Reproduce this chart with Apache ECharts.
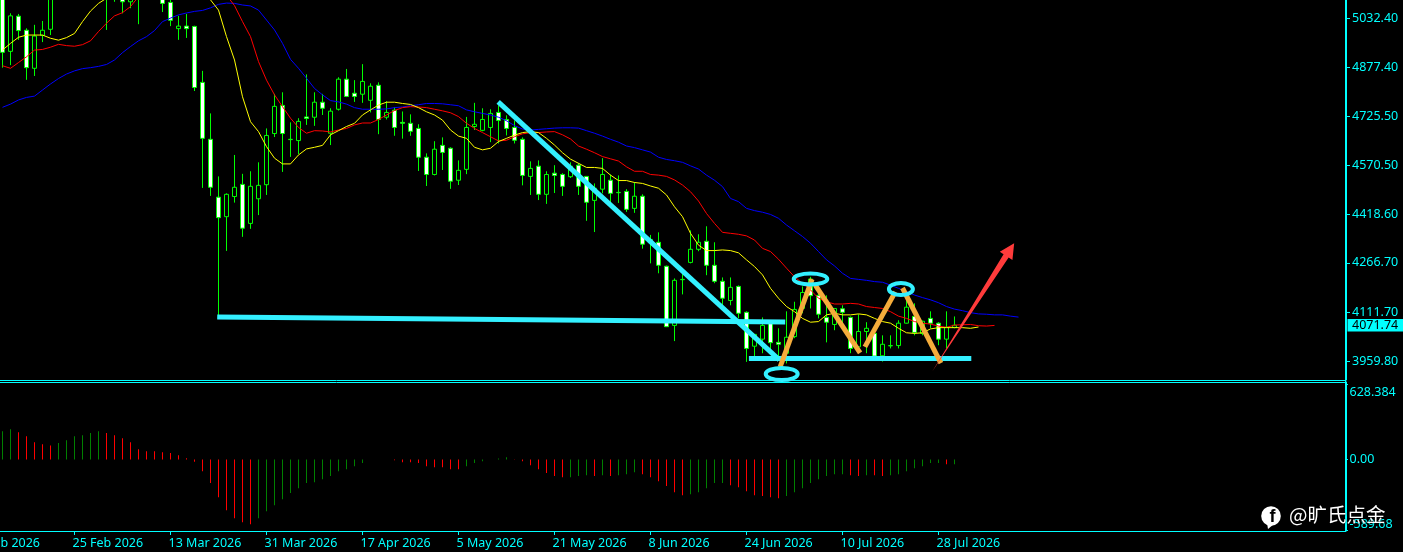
<!DOCTYPE html>
<html><head><meta charset="utf-8">
<style>html,body{margin:0;padding:0;background:#000;overflow:hidden}#c{width:1403px;height:552px}</style>
<script src="https://cdn.jsdelivr.net/npm/echarts@6/dist/echarts.min.js"></script>
</head><body><div id="c"></div>
<script>
const dateLabels = ['9 Feb 2026','25 Feb 2026','13 Mar 2026','31 Mar 2026','17 Apr 2026','5 May 2026','21 May 2026','8 Jun 2026','24 Jun 2026','10 Jul 2026','28 Jul 2026'];
const priceTicks = [3959.80,4111.70,4266.70,4418.60,4570.50,4725.50,4877.40,5032.40];
const macdTicks = [-589.68,0,628.384];
const lastPrice = 4071.74;

const opens = [5151,4928,5038,4994,4875,4978,4997,5110,5145,5170,5140,5175,5150,5130,5105,5125,5083,5105,5130,5115,5100,5081,4999,5007,5006,4831,4653,4472,4411,4474,4512,4390,4467,4511,4671,4759,4652,4649,4723,4722,4769,4672,4747,4841,
4797,4794,4775,4822,4722,4744,4706,4703,4687,4597,4543,4634,4625,4525,4559,4693,4681,4690,4737,4715,4690,4653,4537,4569,4481,4547,4543,4536,4572,4537,4462,4497,4525,4486,4490,4437,4475,4336,4331,4256,4071,4214,4268,4309,4334,4259,4209,4149,4193,4112,4006,4028,4078,4018,3984,4036,4124,4216,4165,4096,4074,4123,4096,4004,4052,4046,3976,4007,4008,4078,4099,4046,4093,4078,4028,4065];
const closes = [4925,5039,4993,4877,4976,4994,5110,5145,5170,5140,5175,5150,5130,5105,5125,5083,5105,5130,5115,5100,5078,5025,5007,4999,4815,4656,4503,4408,4481,4503,4375,4506,4509,4665,4756,4671,4653,4709,4718,4769,4750,4741,4841,4787,
4787,4834,4819,4715,4737,4690,4703,4678,4597,4543,4622,4612,4522,4556,4690,4700,4715,4734,4712,4687,4650,4540,4562,4481,4543,4540,4506,4569,4506,4456,4500,4543,4484,4487,4434,4475,4325,4340,4259,4067,4212,4215,4309,4331,4259,4209,4156,4190,4109,3999,4043,4071,4017,4012,4034,4121,4174,4164,4106,4081,4124,4112,3999,4052,4062,3975,4012,4008,4078,4128,4049,4084,4078,4028,4065,4071.74];
const lows = [4877,4885,4964,4839,4851,4957,4979,5100,5130,5125,5120,5130,5105,4995,5083,5047,5063,5013,5095,5092,5051,5007,4964,4970,4804,4501,4476,4094,4304,4455,4348,4373,4416,4479,4660,4551,4598,4606,4698,4695,4729,4635,4743,4785,
4770,4767,4737,4669,4715,4664,4655,4664,4554,4507,4540,4557,4498,4510,4544,4682,4678,4644,4640,4665,4640,4509,4479,4463,4451,4485,4476,4532,4479,4398,4363,4484,4453,4454,4426,4423,4311,4265,4234,4066,4022,4168,4265,4303,4228,4203,4134,4134,4093,3957,3972,3984,3984,3973,3952,4031,4109,4124,4093,4018,4056,4078,3984,3987,3984,3973,3958,3999,3999,4077,4040,4040,4062,4009,3999,4062];
const highs = [5182,5047,5045,5000,5011,5023,5130,5160,5185,5190,5190,5195,5170,5145,5140,5135,5120,5145,5150,5135,5125,5095,5039,5045,5008,4867,4734,4537,4484,4604,4545,4553,4581,4687,4795,4800,4706,4719,4856,4800,4795,4750,4847,4873,
4838,4888,4828,4831,4772,4753,4740,4731,4700,4609,4647,4659,4628,4587,4723,4767,4750,4747,4759,4728,4712,4659,4584,4587,4553,4572,4547,4581,4578,4538,4515,4594,4543,4540,4497,4519,4481,4354,4362,4258,4218,4250,4368,4356,4381,4331,4221,4221,4196,4115,4044,4096,4079,4062,4115,4145,4193,4223,4171,4165,4125,4134,4099,4106,4081,4067,4040,4040,4087,4171,4140,4086,4115,4081,4115,4099];

const jaw = [4753,4763,4776,4784,4788,4807,4826,4843,4857,4867,4874,4877,4881,4887,4901,4924,4943,4961,4974,4993,5021,5032,5042,5048,5053,5056,5064,5075,5079,5078,5073,5070,5057,5026,4995,4953,4903,4875,4844,4812,4792,4774,4770,4763,
4752,4747,4747,4747,4748,4752,4754,4758,4761,4765,4765,4764,4761,4758,4745,4739,4734,4729,4722,4711,4696,4685,4682,4684,4686,4688,4689,4689,4688,4680,4672,4663,4653,4644,4632,4627,4620,4613,4597,4590,4586,4581,4570,4560,
4541,4525,4505,4468,4458,4437,4430,4425,4418,4406,4385,4367,4349,4328,4302,4276,4257,4234,4218,4215,4212,4208,4206,4197,4187,4177,4166,4158,4151,4142,4130,4122,4117,4111,4107,4106,4104,4104,4100,4097];
const teeth = [4883,4875,4893,4911,4932,4934,4941,4950,4946,4944,4949,4961,4990,5016,5039,5049,5068,5099,5120,5141,5151,5162,5167,5167,5162,5151,5136,5120,5104,5071,5021,4974,4896,4838,4792,4755,4719,4690,4672,4680,4679,4676,4682,4687,
4698,4704,4704,4715,4729,4743,4752,4755,4754,4752,4747,4742,4736,4724,4703,4687,4674,4661,4648,4650,4661,4670,4674,4674,4676,4677,4667,4654,4632,4622,4611,4599,4592,4585,4567,4553,4553,4543,4541,4537,4526,4510,
4489,4460,4421,4390,4362,4359,4356,4351,4338,4312,4302,4278,4250,4223,4203,4182,4156,4145,4138,4138,4140,4138,4130,4127,4124,4114,4100,4093,4083,4078,4075,4069,4065,4072,4073,4074,4070,4069,4071];
const lips = [4932,4953,4972,4979,4979,4979,4969,4963,4971,4984,5021,5054,5078,5094,5115,5125,5141,5151,5162,5167,5162,5151,5146,5141,5130,5115,5089,5057,4974,4901,4786,4708,4677,4630,4594,4576,4576,4604,4623,4628,4634,4667,4680,4693,
4703,4729,4745,4760,4769,4769,4765,4762,4752,4739,4729,4713,4682,4663,4656,4628,4620,4625,4646,4656,4666,4674,4677,4674,4656,4635,4611,4591,4578,4565,4565,4562,4541,4524,4524,4518,4515,4507,4500,4479,4442,4411,4359,4322,
4305,4305,4307,4305,4298,4276,4255,4229,4187,4156,4130,4114,4093,4081,4083,4104,4109,4104,4104,4107,4104,4093,4083,4078,4062,4048,4046,4048,4060,4064,4064,4064,4064,4062,4066];

const macdValues = [235,252,227,194,144,127,116,136,160,194,202,219,235,219,202,177,144,86,69,69,61,53,36,11,-19,-97,-196,-313,-421,-487,-520,-537,-487,-429,-379,-329,-279,-238,-196,-188,-163,-138,-97,-80,-55,-30,0,0,0,-6,-22,-22,-30,-55,-64,-64,-80,-80,-55,-30,-14,0,8,19,-3,-14,-47,-80,-113,-138,-147,-147,-138,-130,-138,-130,-138,-130,-122,-105,-122,-147,-180,-221,-271,-296,-288,-271,-238,-196,-196,-213,-230,-263,-296,-304,-313,-321,-304,-271,-238,-196,-163,-138,-122,-122,-130,-138,-130,-130,-138,-130,-122,-97,-72,-55,-30,-30,-39,-39];
const macdFlags = ['g','g','r','r','r','r','r','g','g','g','g','g','g','r','r','r','r','r','r','r','r','r','r','r','r','r','r','r','r','r','r','r','g','g','g','g','g','g','g','g','g','g','g','g','g','g','g','g','g','r','r','r','r','r','r','r','r','r','g','g','g','g','g','g','r','r','r','r','r','r','r','g','g','g','r','g','r','g','g','g','r','r','r','r','r','r','g','g','g','g','g','r','r','r','r','r','r','r','g','g','g','g','g','g','g','g','r','r','g','r','r','g','g','g','g','g','g','g','r','g'];

const cyanLines = [[61.96,4770,97.1,3963],[26.84,4097,97.84,4082],[93.3,3967.6,121.1,3967.6]];
const orangeLines = [[97.2,3941,101.2,4216],[101.6,4197,107.2,3985],[107.8,4004,111.6,4176],[112.5,4188,117.3,3953]];
const rings = [[97.4,3919,2,19],[101,4216,2.1,17],[112.3,4185,1.5,19]];
const arrowLine = [[116.2,3926,126.46,4328]];

const BEFORE = 3, SLOTS = 171;
const pad = a => { const r = new Array(BEFORE).fill(null).concat(a); while (r.length < SLOTS) r.push(null); return r; };
const categories = Array.from({length:SLOTS}, (_, i) => (i % 12 === 0 && dateLabels[i/12]) || '');
const showDate = idx => idx % 12 === 0 && idx/12 < dateLabels.length;
const candles = opens.map((o,i) => [o, closes[i], lows[i], highs[i]]);
const fontFamily = '"Noto Sans", sans-serif';

const segSeries = (data, color, width) => ({
  type:'custom', xAxisIndex:2, yAxisIndex:0, z:6, silent:true, data,
  encode:{x:[0,2], y:[1,3]},
  renderItem:(p, api) => {
    const a = api.coord([api.value(0), api.value(1)]), b = api.coord([api.value(2), api.value(3)]);
    return {type:'line', shape:{x1:a[0],y1:a[1],x2:b[0],y2:b[1]}, style:{stroke:color, lineWidth:width, lineCap:'butt'}};
  }
});

const option = {
  backgroundColor:'#000', animation:false,
  grid:[
    {left:-25.5, top:0, width:1368, height:380, outerBoundsMode:'none'},
    {left:-25.5, top:382, width:1368, height:149, outerBoundsMode:'none'}
  ],
  xAxis:[
    {type:'category', gridIndex:0, data:categories, show:false},
    {type:'category', gridIndex:1, data:categories, axisLine:{show:true, onZero:false, lineStyle:{color:'#00ffff'}},
      axisTick:{show:true, alignWithLabel:true, interval:showDate, length:4, lineStyle:{color:'#00ffff'}},
      axisLabel:{interval:showDate, align:'left', color:'#00ffff', margin:6, padding:[0,0,0,-2], fontFamily, fontSize:12.5, showMinLabel:true, hideOverlap:false},
      splitLine:{show:false}},
    {type:'value', gridIndex:0, show:false, min:-BEFORE-0.5, max:SLOTS-BEFORE-0.5, splitLine:{show:false}}
  ],
  yAxis:[
    {type:'value', gridIndex:0, position:'right', offset:3.5, min:3900.3, max:5088.6, splitLine:{show:false},
      axisLine:{show:true, onZero:false, lineStyle:{color:'#00ffff'}},
      axisTick:{show:true, customValues:priceTicks, length:4, lineStyle:{color:'#00ffff'}},
      axisLabel:{customValues:priceTicks, color:'#00ffff', margin:6, padding:[2,0,0,0], fontFamily, fontSize:12.5, formatter:v=>v.toFixed(2)}},
    {type:'value', gridIndex:1, position:'right', offset:3.5, min:-593.5, max:643.3, splitLine:{show:false},
      axisLine:{show:true, onZero:false, lineStyle:{color:'#00ffff'}},
      axisTick:{show:true, customValues:macdTicks, length:2, lineStyle:{color:'#00ffff'}},
      axisLabel:{customValues:macdTicks, color:'#00ffff', margin:3.5, padding:[2,0,0,0], fontFamily, fontSize:12.5,
        verticalAlignMinLabel:'bottom', verticalAlignMaxLabel:'top',
        formatter:v=>v===0?'0.00':String(v)}}
  ],
  series:[
    {type:'candlestick', xAxisIndex:0, yAxisIndex:0, z:2, barWidth:5, data:pad(candles).map(c=>c||['-','-','-','-']),
      itemStyle:{color:'#000', color0:'#fff', borderColor:'#00ff00', borderColor0:'#00ff00', borderWidth:1}},
    {type:'line', xAxisIndex:0, yAxisIndex:0, z:3, data:pad(jaw), showSymbol:false, lineStyle:{color:'#0000ff',width:1}},
    {type:'line', xAxisIndex:0, yAxisIndex:0, z:3, data:pad(teeth), showSymbol:false, lineStyle:{color:'#ff0000',width:1}},
    {type:'line', xAxisIndex:0, yAxisIndex:0, z:3, data:pad(lips), showSymbol:false, lineStyle:{color:'#ffff00',width:1}},
    {type:'bar', xAxisIndex:1, yAxisIndex:1, z:2, barWidth:1,
      data:pad(macdValues.map((v,i)=>({value:v, itemStyle:{color:macdFlags[i]==='r'?'#ff0000':'#008000'}})))},
    segSeries(cyanLines,'#33f0ff',5),
    segSeries(orangeLines,'#f5ac3b',5),
    {type:'custom', xAxisIndex:2, yAxisIndex:0, z:7, silent:true, data:rings, encode:{x:0,y:1},
      renderItem:(p, api) => {
        const c = api.coord([api.value(0), api.value(1)]), s = api.size([api.value(2), api.value(3)]);
        return {type:'ellipse', shape:{cx:c[0],cy:c[1],rx:s[0],ry:s[1]}, style:{fill:null, stroke:'#33f0ff', lineWidth:4}};
      }},
    {type:'custom', xAxisIndex:2, yAxisIndex:0, z:8, silent:true, data:arrowLine, encode:{x:[0,2],y:[1,3]},
      renderItem:(p, api) => {
        const a = api.coord([api.value(0), api.value(1)]), b = api.coord([api.value(2), api.value(3)]);
        const dx=b[0]-a[0], dy=b[1]-a[1], L=Math.hypot(dx,dy), ux=dx/L, uy=dy/L, nx=-uy, ny=ux;
        const hb=[b[0]-ux*15, b[1]-uy*15];
        const pts=[a,[hb[0]+nx*3,hb[1]+ny*3],[hb[0]+nx*7.5,hb[1]+ny*7.5],b,[hb[0]-nx*7.5,hb[1]-ny*7.5],[hb[0]-nx*3,hb[1]-ny*3]];
        return {type:'polygon', shape:{points:pts}, style:{fill:'#ff3b3b'}};
      }},
    {type:'custom', xAxisIndex:2, yAxisIndex:0, z:9, silent:true, clip:false, data:[[0,lastPrice]], encode:{y:1},
      renderItem:(p, api) => {
        const y = api.coord([0, api.value(1)])[1];
        return {type:'group', children:[
          {type:'rect', shape:{x:1347.5,y:y-6.3,width:56,height:12.6}, style:{fill:'#00ffff'}},
          {type:'text', style:{x:1352,y:y+0.5,text:lastPrice.toFixed(2),fill:'#000',font:'12.5px '+fontFamily,verticalAlign:'middle',align:'left'}}
        ]};
      }}
  ],
  graphic:[
    {type:'line', silent:true, shape:{x1:0,y1:380.5,x2:1346,y2:380.5}, style:{stroke:'#00ffff',lineWidth:1}},
    {type:'line', silent:true, shape:{x1:0,y1:382.5,x2:1346,y2:382.5}, style:{stroke:'#00ffff',lineWidth:1}},
    {type:'line', silent:true, shape:{x1:0,y1:531.5,x2:1346,y2:531.5}, style:{stroke:'#00ffff',lineWidth:1}},
    {type:'line', silent:true, shape:{x1:1345.5,y1:0,x2:1345.5,y2:532}, style:{stroke:'#00ffff',lineWidth:1}},
    {type:'circle', z:100, silent:true, shape:{cx:1271,cy:516,r:9.8}, style:{fill:'#fff'}},
    {type:'polygon', z:100, silent:true, shape:{points:[[1267,523],[1268,529],[1274,524]]}, style:{fill:'#fff'}},
    {type:'text', z:101, silent:true, style:{x:1272.5,y:517,text:'f',fill:'#000',font:'bold 18px "Liberation Sans"',align:'center',verticalAlign:'middle'}},
    {type:'text', z:101, silent:true, style:{x:1289,y:515,text:'@旷氏点金',fill:'#fff',font:'19.5px "Noto Sans CJK SC"',align:'left',verticalAlign:'middle',textShadowColor:'#000',textShadowBlur:2}}
  ]
};
echarts.init(document.getElementById('c'),null,{renderer:'canvas'}).setOption(option);
</script></body></html>
